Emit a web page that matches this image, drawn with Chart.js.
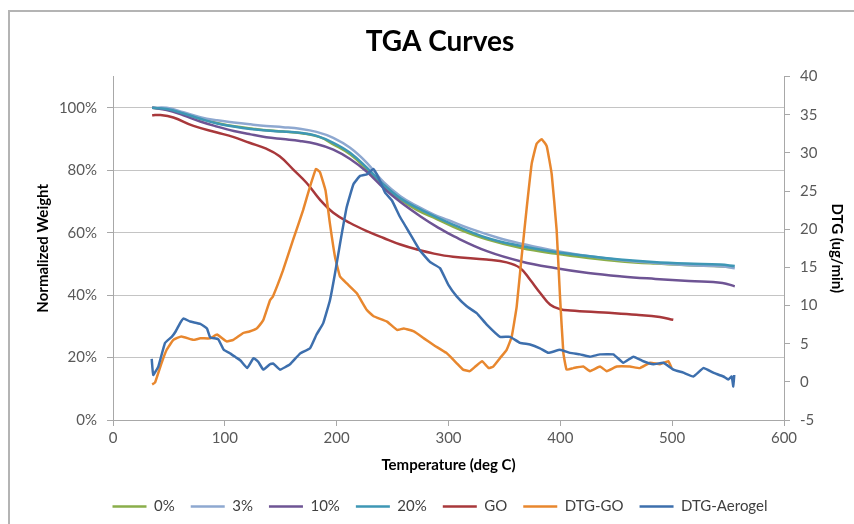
<!DOCTYPE html>
<html>
<head>
<meta charset="utf-8">
<title>TGA Curves</title>
<script src="https://cdn.jsdelivr.net/npm/chart.js@4.4.0/dist/chart.umd.min.js"></script>
<style>
  html, body { margin: 0; padding: 0; background: #fff; overflow: hidden; }
  #frame { position: absolute; left: 8px; top: 10px; width: 844px; height: 512px;
           border-left: 2px solid #b4b4b4; border-top: 2px solid #b4b4b4; }
  #wrap { position: absolute; left: 0; top: 0; width: 854px; height: 524px; }
</style>
</head>
<body>
<div id="frame"></div>
<div id="wrap"><canvas id="tgaChart" width="854" height="524"></canvas></div>
<script>
// --- du lieu doc tu hinh ---
const seriesNames = ['0%', '3%', '10%', '20%', 'GO', 'DTG-GO', 'DTG-Aerogel'];
const seriesColors = ['#8aae4a', '#8ea8d0', '#6e5494', '#3e97b5', '#a8383b', '#e8872e', '#3d6fad'];

const xTicks = [0, 100, 200, 300, 400, 500, 600];
const weightTicks = [0, 20, 40, 60, 80, 100];
const dtgTicks = [-5, 0, 5, 10, 15, 20, 25, 30, 35, 40];

// 0%
const t0 = [35, 50, 65, 80, 95, 110, 125, 140, 155, 170, 185, 197, 212, 227, 242, 257, 272, 290, 310, 335, 365, 395, 425, 455, 485, 515, 545, 555];
const w0 = [100, 99.5, 98, 96.3, 95, 94, 93.3, 92.7, 92.3, 91.8, 90.6, 88.3, 85.1, 80.3, 74.9, 70.6, 67.2, 64.3, 61.0, 57.8, 55.1, 53.3, 51.9, 50.8, 50.1, 49.6, 49.2, 48.8];

// 3%
const t3 = [35, 48, 63, 78, 93, 108, 123, 137, 152, 167, 182, 197, 212, 227, 242, 257, 272, 287, 300, 320, 345, 365, 395, 425, 455, 485, 515, 545, 556];
const w3 = [100, 100, 98.6, 97.0, 96.0, 95.3, 94.7, 94.2, 93.8, 93.3, 92.3, 90.4, 87.2, 82.4, 76.2, 71.7, 68.5, 65.8, 64.0, 61.2, 58.3, 56.5, 54.2, 52.5, 51.2, 50.3, 49.6, 49.2, 48.6];

// 10%
const t10 = [35, 48, 63, 78, 93, 108, 123, 137, 152, 167, 182, 197, 212, 227, 242, 257, 275, 290, 305, 335, 365, 395, 425, 455, 485, 515, 545, 556];
const w10 = [100, 99.3, 97.6, 95.6, 94.0, 92.6, 91.5, 90.6, 90.0, 89.4, 88.4, 86.6, 83.6, 79.5, 74.3, 69.8, 65.2, 61.8, 58.8, 54.0, 50.8, 48.7, 47.1, 46.0, 45.2, 44.5, 43.9, 42.8];

// 20%
const t20 = [35, 48, 63, 78, 93, 108, 123, 137, 152, 167, 182, 197, 212, 227, 242, 257, 274, 290, 304, 334, 364, 394, 424, 453, 483, 513, 543, 556];
const w20 = [100, 99.6, 98.2, 96.5, 95.0, 94.0, 93.2, 92.7, 92.4, 92.0, 91.0, 88.8, 85.6, 80.8, 75.4, 71.0, 67.6, 64.8, 62.6, 58.4, 55.8, 53.9, 52.5, 51.4, 50.6, 50.1, 49.8, 49.3];

// GO
const tGO = [35, 42, 54, 72, 93, 108, 122, 137, 149, 161, 173, 185, 197, 212, 227, 242, 257, 272, 287, 304, 334, 352, 364, 373, 382, 391, 400, 409, 439, 468, 489, 501];
const wGO = [97.6, 97.7, 96.9, 94.2, 92.1, 90.6, 88.8, 86.9, 84.5, 80.3, 76.0, 70.6, 66.4, 63.1, 60.5, 58.3, 56.2, 54.6, 53.3, 52.3, 51.4, 50.5, 48.7, 44.9, 40.7, 36.9, 35.5, 35.1, 34.4, 33.7, 33.0, 32.1];

// DTG-GO (ug/min)
const tDtgGO = [35, 37.6, 43.5, 48, 54, 61, 72, 78, 87, 93, 101.6, 107.6, 116.5, 122, 128.5, 131.5, 134.4, 140.4, 143, 152, 161, 170, 176, 181.5, 185, 190, 194, 198.5, 203, 209, 218, 227, 233, 245, 254, 260, 269, 278, 287, 298, 307, 313, 319, 324, 330, 336, 340, 346, 352, 356.5, 361, 365.4, 370, 374.4, 378.8, 383.3, 387.8, 392.3, 396.7, 399.7, 402.7, 405.6, 411.6, 420.6, 426.5, 435.5, 441.5, 450.4, 462.3, 471.2, 480.2, 489.1, 496.6, 499.5];
const dtgGO = [-0.35, -0.1, 2.5, 4.2, 5.5, 5.95, 5.5, 5.7, 5.7, 6.2, 5.3, 5.5, 6.4, 6.6, 7.0, 7.5, 8.1, 10.7, 11.2, 14.6, 18.6, 22.5, 25.5, 27.9, 27.5, 25.1, 20.7, 16.4, 13.8, 12.9, 11.6, 9.4, 8.6, 7.9, 6.8, 7.0, 6.6, 5.7, 4.8, 3.8, 2.5, 1.6, 1.4, 2.0, 2.7, 1.8, 2.0, 3.1, 4.2, 5.9, 9.9, 16.4, 22.9, 28.6, 31.2, 31.8, 30.9, 27.2, 19.9, 11.2, 3.8, 1.6, 1.8, 2.0, 1.4, 2.0, 1.4, 2.0, 2.0, 1.8, 2.5, 2.3, 2.7, 1.8];

// DTG-Aerogel (ug/min)
const tDtgAero = [34.6, 36, 40.5, 46.5, 52.5, 56, 60, 63, 69, 78, 84, 87, 94, 99, 105, 110, 114, 120, 125.5, 127, 130, 134.4, 140.4, 143.3, 149.3, 158.3, 167.2, 176.2, 182, 188, 194, 198.5, 203, 209, 215, 221, 227, 232.8, 237.3, 243.3, 249.3, 256.7, 265.6, 274.5, 283.5, 292.4, 299.9, 307.3, 316.3, 325.2, 334.2, 346.1, 355, 364, 372.9, 381.8, 389.3, 399.7, 408.7, 417.6, 426.5, 435.5, 447.4, 456.3, 465.3, 474.2, 483.2, 492.1, 501.1, 510, 519, 527.9, 536.8, 545.8, 550.2, 553.2, 554.7, 555.5];
const dtgAero = [3.0, 0.9, 2.0, 5.1, 5.9, 6.6, 7.7, 8.3, 7.9, 7.6, 7.0, 5.8, 5.6, 4.2, 3.7, 3.2, 2.8, 1.8, 3.1, 3.0, 2.6, 1.6, 2.3, 2.4, 1.6, 2.3, 3.7, 4.4, 6.2, 7.7, 10.7, 14.2, 18.1, 22.9, 25.9, 27.0, 27.2, 27.9, 26.8, 24.8, 23.8, 21.6, 19.4, 17.2, 15.7, 14.9, 12.7, 11.2, 9.9, 9.0, 7.5, 5.9, 5.9, 5.1, 4.9, 4.4, 3.8, 4.2, 3.8, 3.6, 3.3, 3.6, 3.6, 2.5, 3.3, 2.7, 2.3, 2.5, 1.6, 1.2, 0.7, 1.8, 1.2, 0.7, 0.3, 0.7, -0.6, 0.9];

const seriesX = [t0, t3, t10, t20, tGO, tDtgGO, tDtgAero];
const seriesY = [w0, w3, w10, w20, wGO, dtgGO, dtgAero];
const seriesAxis = ['y', 'y', 'y', 'y', 'y', 'y2', 'y2'];

function toPoints(xs, ys) {
    return xs.map((x, i) => ({ x: x, y: ys[i] }));
}

const datasets = seriesNames.map((name, i) => ({
    label: name,
    data: toPoints(seriesX[i], seriesY[i]),
    yAxisID: seriesAxis[i],
    borderColor: seriesColors[i],
    backgroundColor: seriesColors[i],
    borderWidth: 2.5,
    pointRadius: 0,
    tension: seriesAxis[i] === 'y' ? 0.4 : 0.1,
    fill: false,
    order: seriesNames.length - i   // series sau ve de len tren
}));

const tickColor = '#595959';
const gridColor = '#c4c4c4';
const axisColor = '#a8a8a8';
const fontFamily = 'Lato, "Open Sans", sans-serif';

new Chart(document.getElementById('tgaChart').getContext('2d'), {
    type: 'line',
    data: { datasets: datasets },
    options: {
        responsive: false,
        animation: false,
        layout: { padding: { left: 30, right: 4, top: 10, bottom: 0 } },
        plugins: {
            title: {
                display: true,
                text: 'TGA Curves',
                color: '#000',
                font: { family: fontFamily, size: 28, weight: 'bold' },
                padding: { top: 15, bottom: 18 }
            },
            legend: {
                position: 'bottom',
                align: 'center',
                labels: {
                    color: '#404040',
                    font: { family: fontFamily, size: 15 },
                    usePointStyle: true,
                    pointStyle: 'line',
                    pointStyleWidth: 34,
                    padding: 16,
                    sort: (a, b) => a.datasetIndex - b.datasetIndex
                }
            },
            tooltip: { enabled: false }
        },
        scales: {
            x: {
                type: 'linear',
                min: 0,
                max: 600,
                afterBuildTicks: scale => { scale.ticks = xTicks.map(v => ({ value: v })); },
                afterFit: scale => { scale.height = 63; },
                ticks: { color: tickColor, font: { family: fontFamily, size: 15 }, padding: 3 },
                grid: { drawOnChartArea: false, drawTicks: true, tickLength: 6, tickColor: axisColor },
                border: { display: true, color: axisColor },
                title: {
                    display: true,
                    text: 'Temperature (deg C)',
                    color: '#000',
                    font: { family: fontFamily, size: 15, weight: 'bold' },
                    padding: { top: 0, bottom: 9 }
                }
            },
            y: {
                position: 'left',
                min: 0,
                max: 110,
                afterBuildTicks: scale => { scale.ticks = weightTicks.map(v => ({ value: v })); },
                afterFit: scale => { scale.width = 83; },
                ticks: {
                    color: tickColor,
                    font: { family: fontFamily, size: 15 },
                    padding: 10,
                    callback: v => v + '%'
                },
                grid: { color: gridColor, tickColor: axisColor, tickLength: 6 },
                border: { display: true, color: axisColor },
                title: {
                    display: true,
                    text: 'Normalized Weight',
                    color: '#000',
                    font: { family: fontFamily, size: 15, weight: 'bold' },
                    padding: { top: 4, bottom: 0 }
                }
            },
            y2: {
                position: 'right',
                min: -5,
                max: 40,
                afterBuildTicks: scale => { scale.ticks = dtgTicks.map(v => ({ value: v })); },
                afterFit: scale => { scale.width = 66; },
                ticks: { color: tickColor, font: { family: fontFamily, size: 15 }, padding: 10 },
                grid: { drawOnChartArea: false, drawTicks: true, tickLength: 6, tickColor: axisColor },
                border: { display: true, color: axisColor },
                title: {
                    display: true,
                    text: 'DTG (ug/min)',
                    color: '#000',
                    font: { family: fontFamily, size: 15, weight: 'bold' },
                    padding: { top: 4, bottom: 0 }
                }
            }
        }
    }
});
</script>
</body>
</html>
